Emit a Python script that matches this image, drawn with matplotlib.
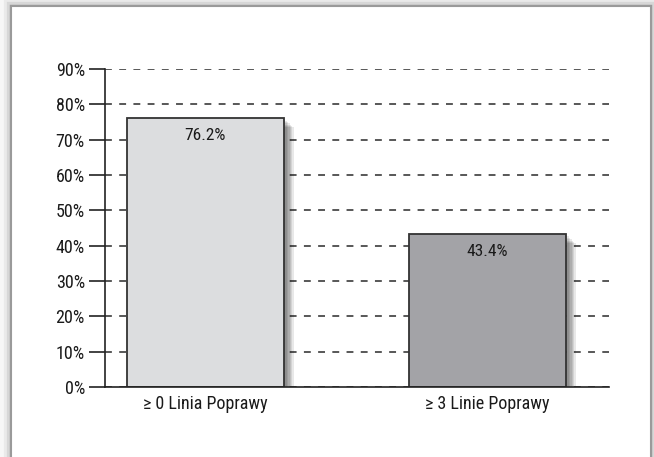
import matplotlib
matplotlib.use("Agg")
import matplotlib.pyplot as plt
import matplotlib.patheffects as pe
from matplotlib.patches import Rectangle

categories = ["\u2265 0 Linia Poprawy", "\u2265 3 Linie Poprawy"]
values = [76.2, 43.4]
bar_colors = ["#dcdddf", "#a3a3a7"]
yticks = list(range(0, 100, 10))

plt.rcParams["font.family"] = ["Roboto Condensed", "DejaVu Sans"]

fig = plt.figure(figsize=(6.54, 4.57), dpi=100)

# outer card with a soft halo, kept behind the axes
frame = Rectangle((11 / 654, -0.02), 640 / 654, (457 - 6) / 457 + 0.02,
                  transform=fig.transFigure, facecolor="white",
                  edgecolor="#9a9a9a", lw=1.5, zorder=-1)
frame.set_path_effects([pe.withStroke(linewidth=16, foreground="#000000", alpha=0.03),
                        pe.withStroke(linewidth=11, foreground="#000000", alpha=0.05),
                        pe.withStroke(linewidth=6, foreground="#000000", alpha=0.08),
                        pe.Normal()])
fig.patches.append(frame)

ax = fig.add_axes([105 / 654, 70 / 457, 504 / 654, 318 / 457])
ax.patch.set_alpha(0)

x = range(len(categories))
bars = ax.bar(x, values, width=0.557, color=bar_colors, edgecolor="#333333",
              linewidth=1.3, zorder=3)
shadow = [pe.SimplePatchShadow(offset=(k, -k), shadow_rgbFace="black", alpha=0.09)
          for k in (7, 6, 5, 4, 3, 2)]
for b in bars:
    b.set_path_effects(shadow + [pe.Normal()])

for xi, v in zip(x, values):
    ax.annotate(f"{v}%", (xi, v), xytext=(0, -12.5), textcoords="offset points",
                ha="center", va="center", fontsize=12.5, color="#1a1a1a", zorder=4)

ax.set_xlim(-0.356, 1.431)
ax.set_ylim(0, 90)
ax.set_yticks(yticks)
ax.set_yticklabels([f"{t}%" for t in yticks], fontsize=13, color="#1a1a1a")
ax.set_xticks(list(x))
ax.set_xticklabels(categories, fontsize=13, color="#1a1a1a")
ax.tick_params(axis="y", direction="out", length=11.5, width=1.2, color="#222222", pad=3)
ax.tick_params(axis="x", length=0, pad=6)

ax.yaxis.grid(True, linestyle=(0, (4.5, 4.8)), color="#2a2a2a", lw=1.1)
ax.set_axisbelow(True)
for side in ("top", "right"):
    ax.spines[side].set_visible(False)
for side in ("left", "bottom"):
    ax.spines[side].set_color("#222222")
    ax.spines[side].set_linewidth(1.2)
    ax.spines[side].set_zorder(5)

fig.savefig("out.png", dpi=100)
